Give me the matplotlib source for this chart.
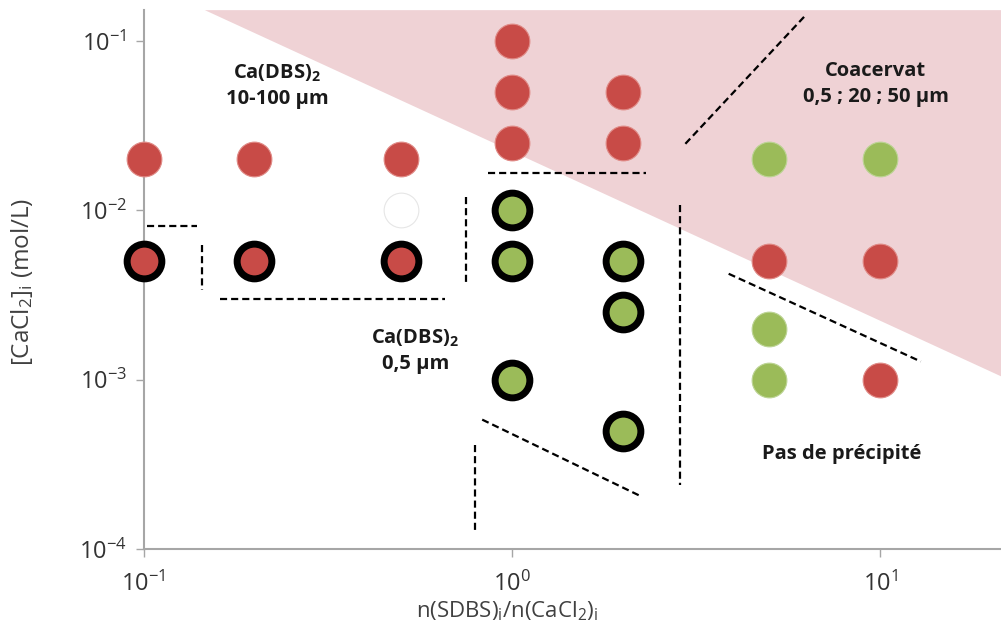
import numpy as np
import matplotlib
matplotlib.use("Agg")
import matplotlib.pyplot as plt
from matplotlib.ticker import FixedLocator, FixedFormatter

plt.rcParams['font.family'] = ['Open Sans', 'DejaVu Sans']
plt.rcParams['mathtext.fontset'] = 'custom'
plt.rcParams['mathtext.rm'] = 'Open Sans'
plt.rcParams['mathtext.it'] = 'Open Sans:italic'
plt.rcParams['mathtext.bf'] = 'Open Sans:bold'

# Data: (ratio, CaCl2 concentration)
red_x = [0.1, 0.2, 0.5, 1, 1, 1, 2, 2, 5, 10, 10]
red_y = [0.02, 0.02, 0.02, 0.1, 0.05, 0.025, 0.05, 0.025, 0.005, 0.005, 0.001]
green_x = [5, 10, 5, 5]
green_y = [0.02, 0.02, 0.002, 0.001]
ring_red_x = [0.1, 0.2, 0.5]
ring_red_y = [0.005, 0.005, 0.005]
ring_green_x = [1, 1, 2, 2, 1, 2]
ring_green_y = [0.01, 0.005, 0.005, 0.0025, 0.001, 0.0005]
empty_x = [0.5]
empty_y = [0.01]

# boundary of the coacervate region: y = k / x
coac_k = 0.0223

# dashed separation segments ([x0, x1], [y0, y1])
dash_segments = [
    ([0.102, 0.140], [0.0081, 0.0081]),
    ([0.144, 0.144], [0.00626, 0.0034]),
    ([0.161, 0.658], [0.0030, 0.0030]),
    ([0.752, 0.752], [0.0120, 0.00363]),
    ([0.863, 2.32], [0.0166, 0.0166]),
    ([2.87, 2.87], [0.0108, 0.00024]),
    ([2.96, 6.28], [0.0247, 0.142]),
    ([3.88, 12.9], [0.00422, 0.00128]),
    ([0.831, 2.22], [0.000581, 0.000207]),
    ([0.796, 0.796], [0.000414, 0.000125]),
]

xticks = [0.1, 1, 10]
xtick_labels = ['$10^{-1}$', '$10^{0}$', '$10^{1}$']
yticks = [1e-4, 1e-3, 1e-2, 1e-1]
ytick_labels = ['$10^{-4}$', '$10^{-3}$', '$10^{-2}$', '$10^{-1}$']

RED = '#C84B47'
GREEN = '#9BBB59'
PINK = '#EFD2D5'
GRAY = '#A6A6A6'

fig = plt.figure(figsize=(10.01, 6.34), dpi=100)
ax = fig.add_axes([0.1434, 0.134, 0.8566, 0.850])
ax.set_xscale('log')
ax.set_yscale('log')
xmin, xmax = 0.1, 21.3
ymin, ymax = 1e-4, 0.152
ax.set_xlim(xmin, xmax)
ax.set_ylim(ymin, ymax)

# pink coacervate region
xs = np.array([coac_k / ymax, xmax, xmax])
ys = np.array([ymax, coac_k / xmax, ymax])
ax.fill(xs, ys, color=PINK, lw=0, zorder=0)

for sx, sy in dash_segments:
    ax.plot(sx, sy, ls=(0, (3.2, 1.8)), color='black', lw=1.6, zorder=2)

ms = 25
kw = dict(ls='none', marker='o', ms=ms, zorder=3, clip_on=False)
ax.plot(red_x, red_y, color=RED, mec='#E08A86', mew=0.8, **kw)
ax.plot(green_x, green_y, color=GREEN, mec='#BCD494', mew=0.8, **kw)
ax.plot(ring_red_x, ring_red_y, color=RED, mec='black', mew=5, **kw)
ax.plot(ring_green_x, ring_green_y, color=GREEN, mec='black', mew=5, **kw)
ax.plot(empty_x, empty_y, color='white', mec='#E6E6E6', mew=0.8, **kw)

lab = dict(ha='center', va='center', fontsize=14.5, fontweight='bold',
           color='#1A1A1A', linespacing=1.35)
ax.text(0.231, 0.0543, 'Ca(DBS)$_\\mathbf{2}$\n10-100 µm', **lab)
ax.text(0.547, 0.00148, 'Ca(DBS)$_\\mathbf{2}$\n0,5 µm', **lab)
ax.text(9.72, 0.0557, 'Coacervat\n0,5 ; 20 ; 50 µm', **lab)
ax.text(7.86, 0.000366, 'Pas de précipité', **lab)

for s in ['top', 'right']:
    ax.spines[s].set_visible(False)
for s in ['left', 'bottom']:
    ax.spines[s].set_color(GRAY)
    ax.spines[s].set_linewidth(1.5)
ax.minorticks_off()
ax.xaxis.set_major_locator(FixedLocator(xticks))
ax.xaxis.set_major_formatter(FixedFormatter(xtick_labels))
ax.yaxis.set_major_locator(FixedLocator(yticks))
ax.yaxis.set_major_formatter(FixedFormatter(ytick_labels))
ax.tick_params(which='major', length=6, width=1, color=GRAY, labelsize=17,
               labelcolor='#333333')
ax.tick_params(axis='x', pad=10)
ax.tick_params(axis='y', pad=6)

fig.text(0.507, 0.036, 'n(SDBS)$_\\mathregular{i}$/n(CaCl$_\\mathregular{2}$)$_\\mathregular{i}$',
         ha='center', va='center', fontsize=16, color='#404040')
fig.text(0.022, 0.555, '[CaCl$_\\mathregular{2}$]$_\\mathregular{i}$ (mol/L)', rotation=90,
         ha='center', va='center', fontsize=17.5, color='#404040')

fig.savefig('out.png', dpi=100)
